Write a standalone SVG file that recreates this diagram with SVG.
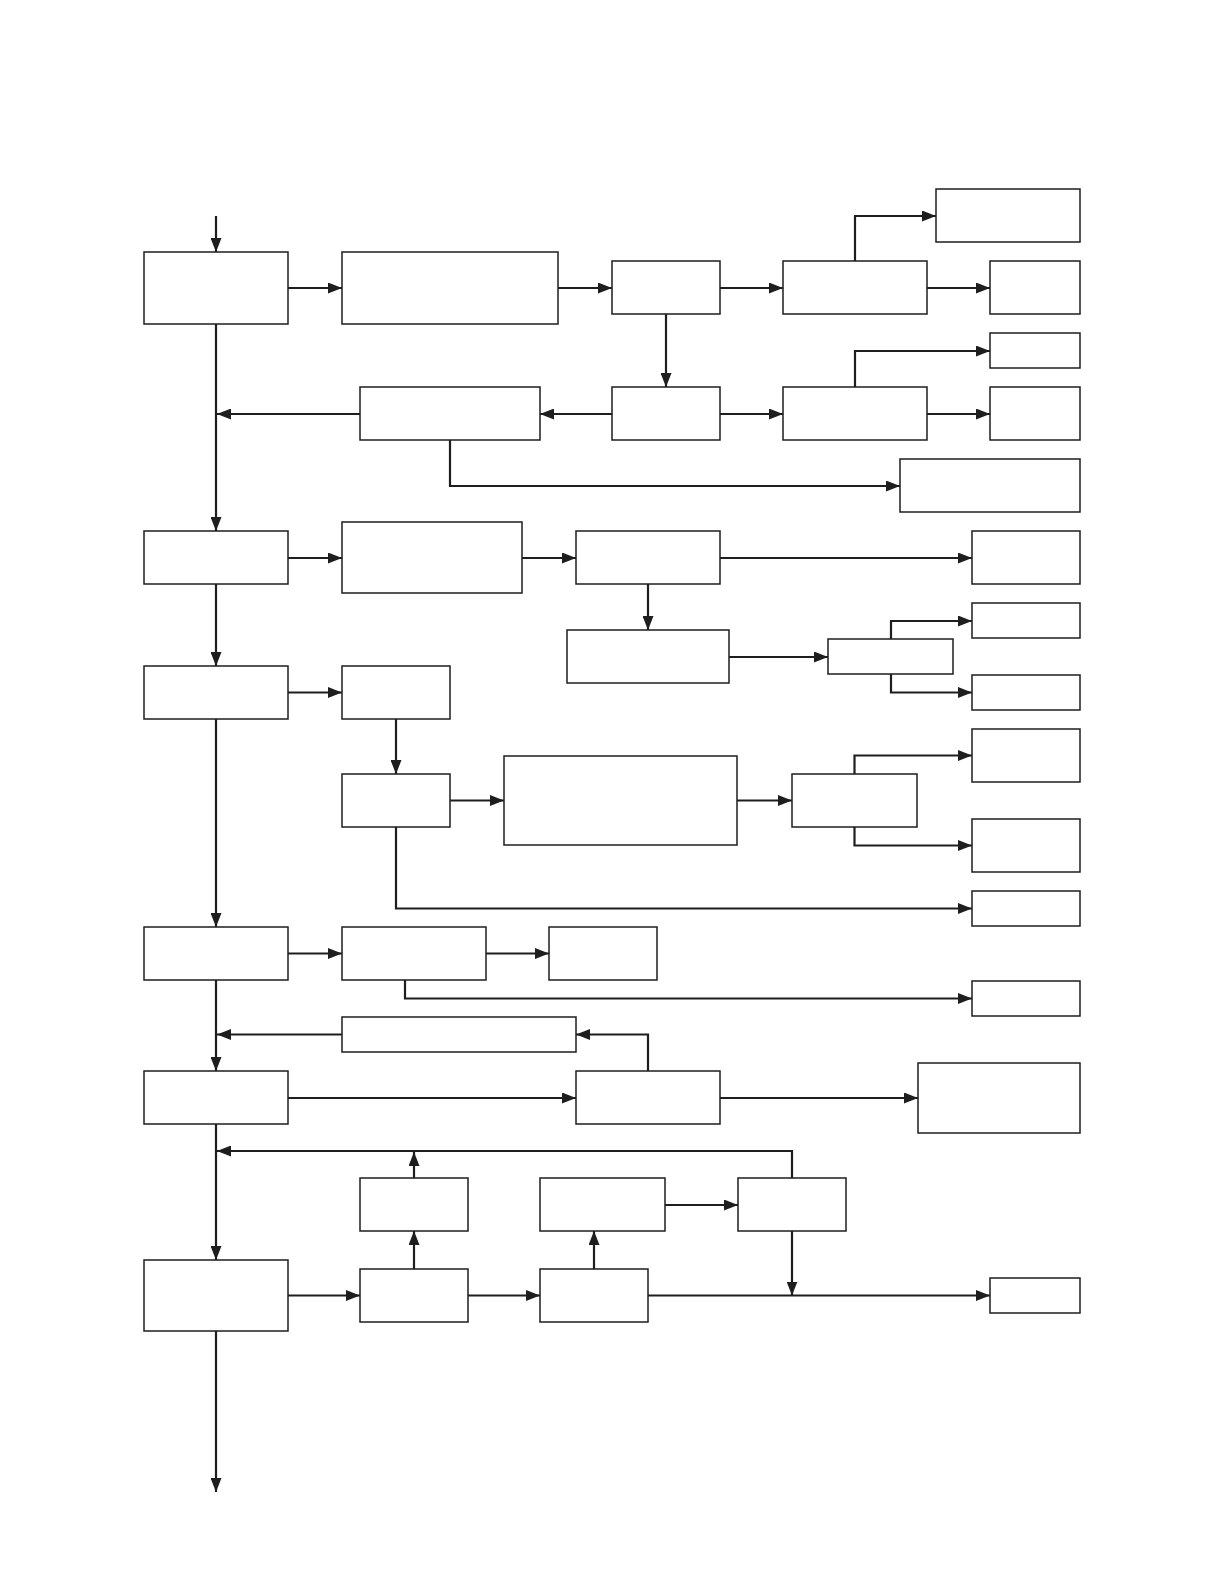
<svg xmlns="http://www.w3.org/2000/svg" width="1224" height="1584" viewBox="0 0 1224 1584">
<style>
.b{fill:#fff;stroke:#1e1e1e;stroke-width:1.5}
.c path{fill:none;stroke:#1e1e1e;stroke-width:2.2;marker-end:url(#ah)}
</style>
<defs>
<marker id="ah" markerUnits="userSpaceOnUse" markerWidth="14" markerHeight="11" refX="14" refY="5.5" orient="auto">
<path d="M0,0 L14,5.5 L0,11 z" fill="#1e1e1e"/>
</marker>
</defs>
<rect width="1224" height="1584" fill="#fff"/>
<g class="c" id="connectors">
<path d="M216,216 V252"/>
<path d="M288,288 H342"/>
<path d="M558,288 H612"/>
<path d="M720,288 H783"/>
<path d="M927,288 H990"/>
<path d="M855,261 V216 H936"/>
<path d="M666,314 V387"/>
<path d="M612,414 H540"/>
<path d="M720,414 H783"/>
<path d="M927,414 H990"/>
<path d="M855,387 V351 H990"/>
<path d="M360,414 H217"/>
<path d="M450,440 V486 H900"/>
<path d="M216,324 V531"/>
<path d="M288,558 H342"/>
<path d="M522,558 H576"/>
<path d="M720,558 H972"/>
<path d="M648,584 V630"/>
<path d="M729,657 H828"/>
<path d="M891,639 V621 H972"/>
<path d="M891,674 V692.5 H972"/>
<path d="M216,584 V666"/>
<path d="M288,692.5 H342"/>
<path d="M396,719 V774"/>
<path d="M450,800.5 H504"/>
<path d="M737,800.5 H792"/>
<path d="M854.5,774 V755.5 H972"/>
<path d="M854.5,827 V845.5 H972"/>
<path d="M396,827 V908.5 H972"/>
<path d="M216,719 V927"/>
<path d="M288,953.5 H342"/>
<path d="M486,953.5 H549"/>
<path d="M405,980 V998.5 H972"/>
<path d="M216,980 V1071"/>
<path d="M342,1034.5 H217"/>
<path d="M648,1071 V1034.5 H576"/>
<path d="M288,1098 H576"/>
<path d="M720,1098 H918"/>
<path d="M216,1124 V1260"/>
<path d="M792,1178 V1151 H217"/>
<path d="M414,1178 V1152"/>
<path d="M665,1205 H738"/>
<path d="M792,1231 V1295.5"/>
<path d="M288,1295.5 H360"/>
<path d="M468,1295.5 H540"/>
<path d="M648,1295.5 H990"/>
<path d="M414,1269 V1231"/>
<path d="M594,1269 V1231"/>
<path d="M216,1331 V1492"/>
</g>
<g id="nA"><rect class="b" x="144" y="252" width="144" height="72"/></g>
<g id="nB"><rect class="b" x="342" y="252" width="216" height="72"/></g>
<g id="nD"><rect class="b" x="612" y="261" width="108" height="53"/></g>
<g id="nE"><rect class="b" x="783" y="261" width="144" height="53"/></g>
<g id="nF"><rect class="b" x="936" y="189" width="144" height="53"/></g>
<g id="nG"><rect class="b" x="990" y="261" width="90" height="53"/></g>
<g id="nH"><rect class="b" x="990" y="333" width="90" height="35"/></g>
<g id="nC"><rect class="b" x="360" y="387" width="180" height="53"/></g>
<g id="nI"><rect class="b" x="612" y="387" width="108" height="53"/></g>
<g id="nJ"><rect class="b" x="783" y="387" width="144" height="53"/></g>
<g id="nK"><rect class="b" x="990" y="387" width="90" height="53"/></g>
<g id="nL"><rect class="b" x="900" y="459" width="180" height="53"/></g>
<g id="nM"><rect class="b" x="144" y="531" width="144" height="53"/></g>
<g id="nN"><rect class="b" x="342" y="522" width="180" height="71"/></g>
<g id="nO"><rect class="b" x="576" y="531" width="144" height="53"/></g>
<g id="nP"><rect class="b" x="972" y="531" width="108" height="53"/></g>
<g id="nQ"><rect class="b" x="567" y="630" width="162" height="53"/></g>
<g id="nR"><rect class="b" x="828" y="639" width="125" height="35"/></g>
<g id="nS"><rect class="b" x="972" y="603" width="108" height="35"/></g>
<g id="nT"><rect class="b" x="972" y="675" width="108" height="35"/></g>
<g id="nU"><rect class="b" x="144" y="666" width="144" height="53"/></g>
<g id="nV"><rect class="b" x="342" y="666" width="108" height="53"/></g>
<g id="nW"><rect class="b" x="342" y="774" width="108" height="53"/></g>
<g id="nX"><rect class="b" x="504" y="756" width="233" height="89"/></g>
<g id="nY"><rect class="b" x="792" y="774" width="125" height="53"/></g>
<g id="nAA"><rect class="b" x="972" y="729" width="108" height="53"/></g>
<g id="nAB"><rect class="b" x="972" y="819" width="108" height="53"/></g>
<g id="nAC"><rect class="b" x="972" y="891" width="108" height="35"/></g>
<g id="nAD"><rect class="b" x="144" y="927" width="144" height="53"/></g>
<g id="nAE"><rect class="b" x="342" y="927" width="144" height="53"/></g>
<g id="nAF"><rect class="b" x="549" y="927" width="108" height="53"/></g>
<g id="nAG"><rect class="b" x="972" y="981" width="108" height="35"/></g>
<g id="nAH"><rect class="b" x="342" y="1017" width="234" height="35"/></g>
<g id="nAJ"><rect class="b" x="144" y="1071" width="144" height="53"/></g>
<g id="nAI"><rect class="b" x="576" y="1071" width="144" height="53"/></g>
<g id="nAK"><rect class="b" x="918" y="1063" width="162" height="70"/></g>
<g id="nAM"><rect class="b" x="360" y="1178" width="108" height="53"/></g>
<g id="nAO"><rect class="b" x="540" y="1178" width="125" height="53"/></g>
<g id="nAN"><rect class="b" x="738" y="1178" width="108" height="53"/></g>
<g id="nAL"><rect class="b" x="144" y="1260" width="144" height="71"/></g>
<g id="nAP"><rect class="b" x="360" y="1269" width="108" height="53"/></g>
<g id="nAQ"><rect class="b" x="540" y="1269" width="108" height="53"/></g>
<g id="nAR"><rect class="b" x="990" y="1278" width="90" height="35"/></g>
</svg>
